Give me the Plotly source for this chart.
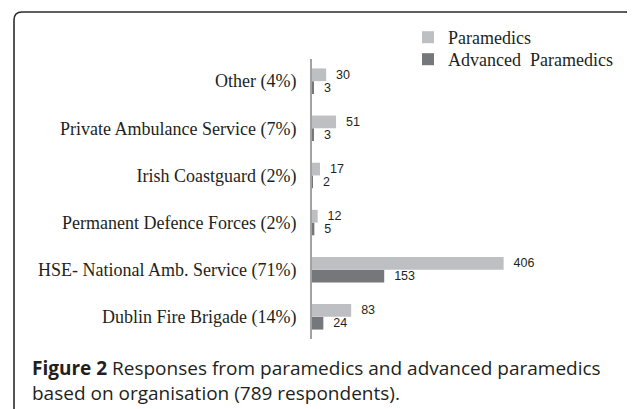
import plotly.graph_objects as go

# ---- data (bottom to top, as drawn) ----
categories = [
    "Dublin Fire Brigade (14%)",
    "HSE- National Amb. Service (71%)",
    "Permanent Defence Forces (2%)",
    "Irish Coastguard (2%)",
    "Private Ambulance Service (7%)",
    "Other (4%)",
]
paramedics = [83, 406, 12, 17, 51, 30]
advanced_paramedics = [24, 153, 5, 2, 3, 3]
series_names = ["Paramedics", "Advanced  Paramedics"]
caption_bold = "Figure 2"
caption_line1 = " Responses from paramedics and advanced paramedics"
caption_line2 = "based on organisation (789 respondents)."

# ---- layout constants (screen pixels; page body adds an 8px offset) ----
OFF = 8
SW, SH = 635, 409
W, H = SW - OFF, SH - OFF
PL, PR, PT, PB = 312, 595, 59, 339      # plot area on screen
L, T = PL - OFF, PT - OFF
R, B = W - (PR - OFF), H - (PB - OFF)
PW, PH = PR - PL, PB - PT

def px_x(px):
    return (px - PL) / PW

def px_y(py):
    return (PB - py) / PH

c_para = "#bebfc3"
c_adv = "#76777b"
lab_font = dict(family="Liberation Sans, Arial, sans-serif", size=12.5, color="#231f20")
serif = "Liberation Serif, Times New Roman, serif"

fig = go.Figure()
fig.add_trace(go.Bar(
    y=categories, x=advanced_paramedics, orientation="h", name=series_names[1],
    marker=dict(color=c_adv, line=dict(width=0)),
    text=advanced_paramedics, texttemplate="\u00a0\u00a0%{x}", textposition="outside",
    textfont=lab_font, constraintext="none", cliponaxis=False, hoverinfo="x+y",
    legend="legend2",
))
fig.add_trace(go.Bar(
    y=categories, x=paramedics, orientation="h", name=series_names[0],
    marker=dict(color=c_para, line=dict(width=0)),
    text=paramedics, texttemplate="\u00a0\u00a0%{x}", textposition="outside",
    textfont=lab_font, constraintext="none", cliponaxis=False, hoverinfo="x+y",
    legend="legend",
))

# rounded frame
x0, x1 = px_x(14), px_x(633)
y0, y1 = px_y(430), px_y(12)
rx, ry = 8 / PW, 8 / PH
frame_path = (f"M {x0},{y0} V {y1-ry} Q {x0},{y1} {x0+rx},{y1} "
              f"H {x1-rx} Q {x1},{y1} {x1},{y1-ry} V {y0}")

cap_font = dict(family="Open Sans, Noto Sans, sans-serif", size=19, color="#231f20")
leg_font = dict(family=serif, size=18, color="#231f20")

fig.update_layout(
    width=W, height=H,
    margin=dict(l=L, r=R, t=T, b=B, autoexpand=False),
    paper_bgcolor="white", plot_bgcolor="white",
    barmode="group", bargap=0.46, bargroupgap=0,
    showlegend=True,
    legend=dict(x=px_x(408), y=px_y(19), xanchor="left", yanchor="top",
                font=leg_font, bgcolor="rgba(0,0,0,0)"),
    legend2=dict(x=px_x(408), y=px_y(41), xanchor="left", yanchor="top",
                 font=leg_font, bgcolor="rgba(0,0,0,0)"),
    xaxis=dict(range=[0, PW / 0.472], visible=False, fixedrange=True),
    yaxis=dict(
        type="category", range=[-0.47, 5.47],
        showline=True, linecolor="#a3a3a3", linewidth=2,
        showgrid=False, zeroline=False,
        ticks="outside", ticklen=10, tickcolor="rgba(0,0,0,0)",
        tickfont=dict(family=serif, size=18, color="#231f20"),
        fixedrange=True,
    ),
    shapes=[dict(type="path", xref="paper", yref="paper", path=frame_path,
                 line=dict(color="#2b2b2b", width=1.6), layer="above")],
    annotations=[
        dict(xref="paper", yref="paper", x=px_x(30), y=px_y(368), xanchor="left", yanchor="middle",
             text=f"<b>{caption_bold}</b>{caption_line1}", showarrow=False, font=cap_font),
        dict(xref="paper", yref="paper", x=px_x(30), y=px_y(393), xanchor="left", yanchor="middle",
             text=caption_line2, showarrow=False, font=cap_font),
    ],
)

fig.write_html("out.html")
